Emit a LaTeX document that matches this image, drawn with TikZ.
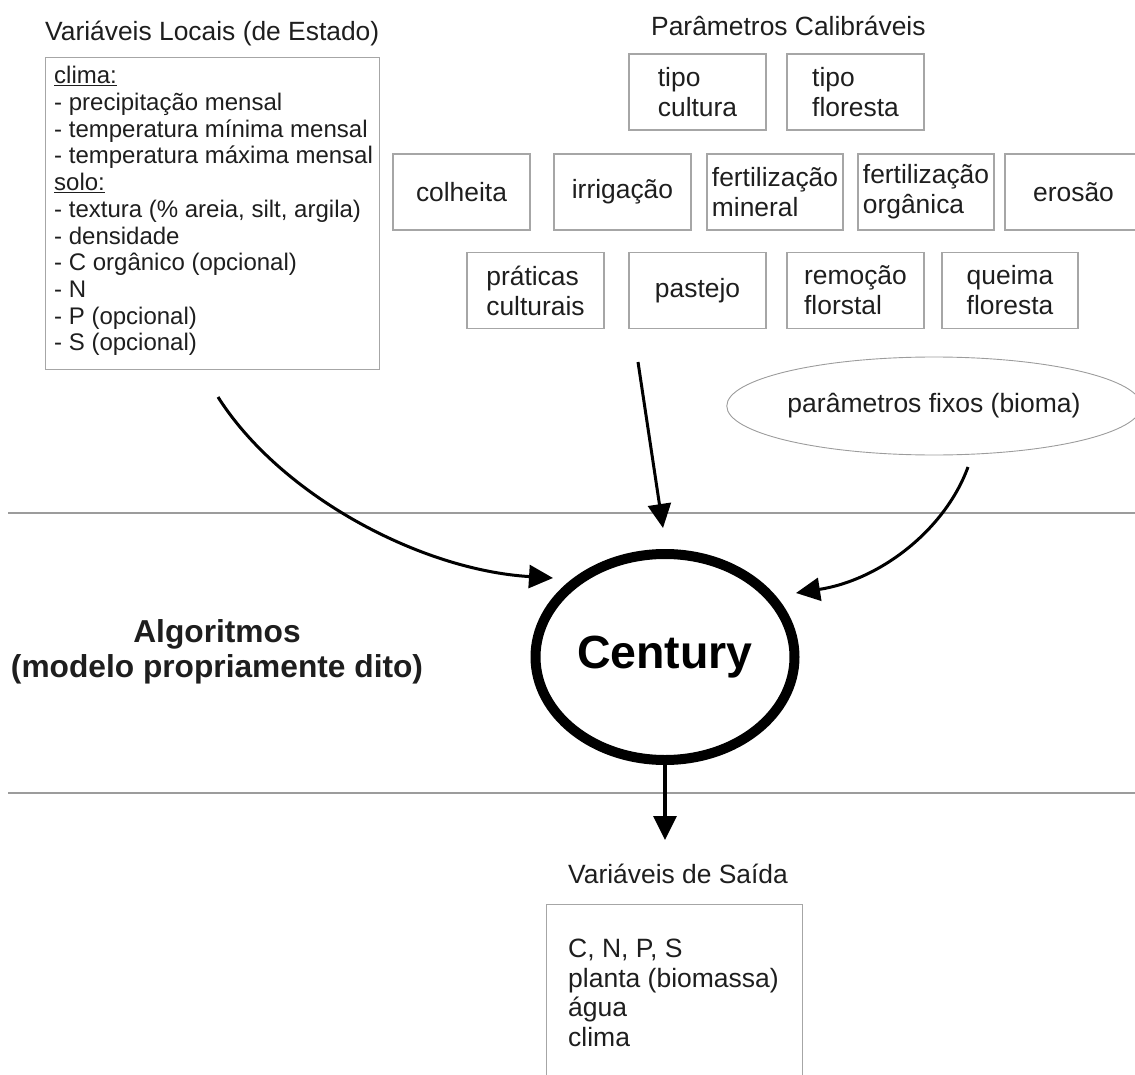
\documentclass[tikz,border=0pt]{standalone}
\usepackage{fontspec}
\setmainfont{Liberation Sans}
\usetikzlibrary{arrows.meta,shapes.geometric}
\definecolor{boxgray}{HTML}{A6A6A6}
\definecolor{txt}{HTML}{1E1E1E}
\definecolor{linegray}{HTML}{9C9C9C}
\begin{document}
\begin{tikzpicture}[x=1pt,y=-1pt,
  every node/.style={text=txt},
  pbox/.style={draw=boxgray, line width=1.3pt, minimum width=137pt, minimum height=76pt,
    inner sep=0pt, align=left, font=\fontsize{26.4}{30}\selectfont},
  ttl/.style={font=\fontsize{26.4}{30}\selectfont, anchor=base west, inner sep=0pt},
  frame/.style={draw=boxgray, line width=1.3pt, anchor=north west, inner sep=0pt},
  sepline/.style={draw=linegray, line width=1.2pt},
  arr/.style={line width=3pt, -{Triangle[length=24pt,width=23pt]}},
]
\useasboundingbox (0,0) rectangle (1135,1075);

% separating lines
\draw[sepline] (8,513) -- (1135,513);
\draw[sepline] (8,793) -- (1135,793);

% local variables
\node[ttl] (tvl) at (45,41) {Variáveis Locais (de Estado)};
\node[frame, minimum width=334pt, minimum height=312pt] (lvbox) at (45,57) {};
\node[anchor=north west, inner sep=0pt, align=left, font=\fontsize{24}{26.7}\selectfont] (lvtext) at (54,66.3)
 {\underline{clima:}\\
  - precipitação mensal\\
  - temperatura mínima mensal\\
  - temperatura máxima mensal\\
  \underline{solo:}\\
  - textura (\% areia, silt, argila)\\
  - densidade\\
  - C orgânico (opcional)\\
  - N\\
  - P (opcional)\\
  - S (opcional)};

% calibrable parameters
\node[ttl] (tpc) at (651,36) {Parâmetros Calibráveis};
\node[pbox] (tc) at (697.5,92) {tipo\\cultura};
\node[pbox] (tf) at (855.5,92) {tipo\\floresta};
\node[pbox] (col) at (461.5,192) {colheita};
\node[pbox] (irr) at (622.5,192) {irrigação};
\node[pbox, minimum width=136pt] (fm) at (775,192) {fertilização\\mineral};
\node[pbox, minimum width=136pt] (fo) at (926,192) {fertilização\\orgânica};
\node[pbox] (ero) at (1073.5,192) {erosão};
\node[pbox] (pc) at (535.5,290.5) {práticas\\culturais};
\node[pbox] (pas) at (697.5,290.5) {pastejo};
\node[pbox] (rf) at (855.5,290.5) {remoção\\florstal};
\node[pbox, minimum width=136pt] (qf) at (1010,290.5) {queima\\floresta};

% fixed parameters
\node[ellipse, draw=linegray, line width=0.9pt, minimum width=408pt, minimum height=98pt,
  inner sep=0pt, font=\fontsize{26.5}{30}\selectfont] (pf) at (934,406) {parâmetros fixos (bioma)};

% algorithms
\node[align=center, inner sep=0pt, font=\bfseries\fontsize{31.7}{35}\selectfont] (alg) at (217,651.5)
  {Algoritmos\\(modelo propriamente dito)};

% Century
\node[ellipse, draw=black, line width=10pt, minimum width=259pt, minimum height=206pt,
  inner sep=0pt, text=black, font=\bfseries\fontsize{46.5}{50}\selectfont] (cent) at (665,657) {Century};

% output
\node[ttl] (tvs) at (568,883) {Variáveis de Saída};
\node[frame, minimum width=256pt, minimum height=200pt] (vsbox) at (546,904) {};
\node[anchor=north west, align=left, inner sep=0pt, font=\fontsize{26.5}{29.7}\selectfont] (vstext) at (568,938.7)
  {C, N, P, S\\planta (biomassa)\\água\\clima};

% arrows
\coordinate (a1s) at (218,397);
\coordinate (a1e) at (553,578);
\draw[arr] (a1s) .. controls (280,495) and (420,570) .. (a1e);
\coordinate (a2s) at (638,362);
\coordinate (a2e) at (663,528);
\draw[arr] (a2s) -- (a2e);
\coordinate (a3s) at (968,467);
\coordinate (a3e) at (796,593);
\draw[arr] (a3s) .. controls (945,530) and (880,580) .. (a3e);
\coordinate (a4e) at (665,840);
\draw[arr, line width=3.5pt] (cent.south) -- (a4e);
\end{tikzpicture}
\end{document}
